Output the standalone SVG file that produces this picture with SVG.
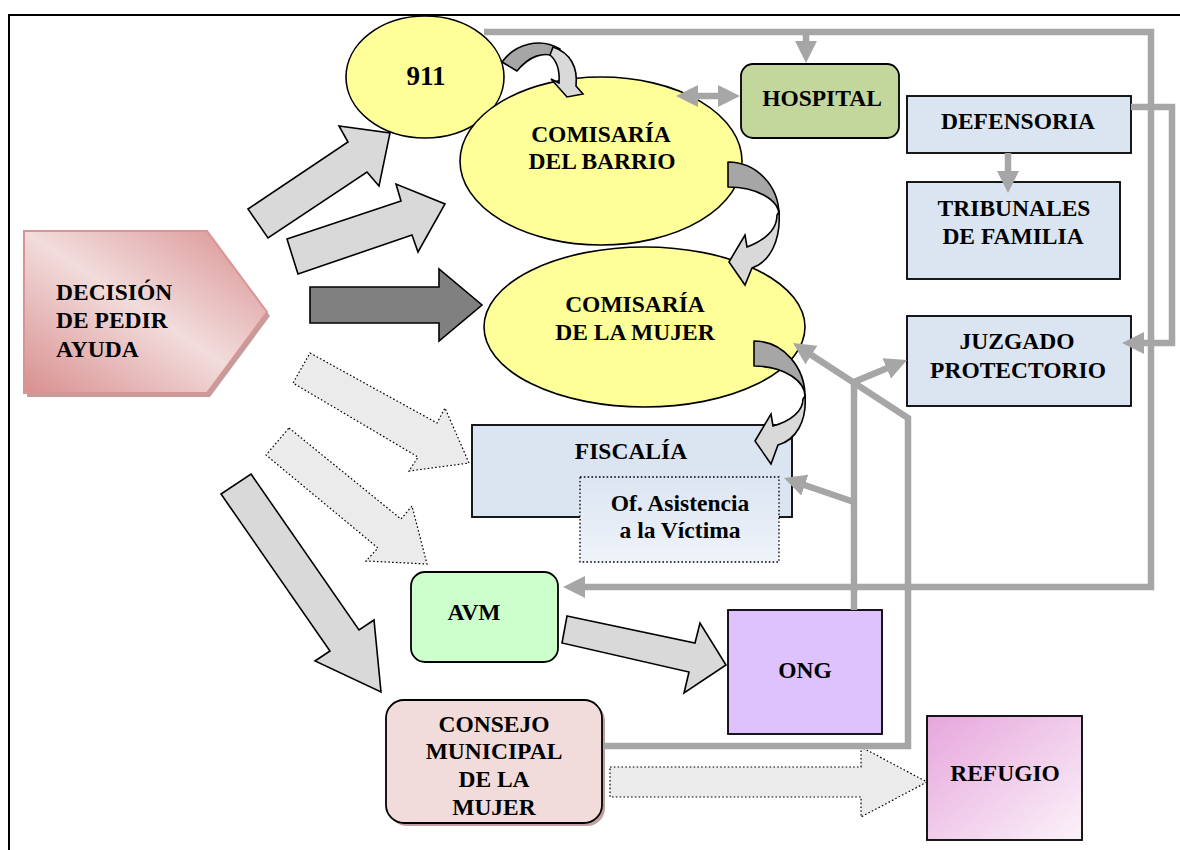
<svg xmlns="http://www.w3.org/2000/svg" width="1180" height="850" viewBox="0 0 1180 850">
  <style>
    .lbl { font-family: "Liberation Serif", "Times New Roman", serif; font-weight: bold; font-size: 23.5px; fill: #000; text-anchor: middle; }
    .lbl-l { text-anchor: start; }
    .oval { fill: #ffff99; stroke: #000; stroke-width: 1.6; }
    .box { stroke: #000; stroke-width: 1.8; }
    .blue { fill: #dbe5f1; }
    .blk { fill: #d9d9d9; stroke: #000; stroke-width: 1.6; stroke-linejoin: miter; }
    .blk-dark { fill: #808080; stroke: #000; stroke-width: 1.6; }
    .blk-dot { fill: #ebebeb; stroke: #000; stroke-width: 1.2; stroke-dasharray: 1.6 2.2; }
    .link { fill: none; stroke: #a6a6a6; stroke-width: 6.5; stroke-linejoin: miter; }
    .curl-back { fill: #a6a6a6; stroke: #000; stroke-width: 1.6; stroke-linejoin: round; }
    .curl-front { fill: #d9d9d9; stroke: #000; stroke-width: 1.6; stroke-linejoin: miter; }
  </style>
  <defs>
    <marker id="head" viewBox="0 0 22 22" refX="12" refY="11" markerWidth="22" markerHeight="22" markerUnits="userSpaceOnUse" orient="auto-start-reverse">
      <path d="M0,0 L22,11 L0,22 Z" fill="#a6a6a6"/>
    </marker>
    <linearGradient id="gDecision" x1="0" y1="1" x2="1" y2="0">
      <stop offset="0" stop-color="#d98f8f"/>
      <stop offset="0.5" stop-color="#f2dcdc"/>
      <stop offset="1" stop-color="#d98f8f"/>
    </linearGradient>
    <linearGradient id="gRefugio" x1="0" y1="0" x2="1" y2="1">
      <stop offset="0" stop-color="#e6a6dc"/>
      <stop offset="1" stop-color="#fbf2f9"/>
    </linearGradient>
    <linearGradient id="gOficina" x1="0" y1="0" x2="0" y2="1">
      <stop offset="0" stop-color="#dbe5f1"/>
      <stop offset="1" stop-color="#eff3fa"/>
    </linearGradient>
  </defs>

  <rect x="0" y="0" width="1180" height="850" fill="#fff"/>
  <!-- page frame -->
  <rect x="9" y="15" width="1200" height="900" fill="none" stroke="#000" stroke-width="2"/>

  <!-- nodes -->
  <g id="decision">
    <polygon points="27,235 210,235 270,316 210,397 27,397" fill="#c49c9c"/>
    <polygon points="24,231 207,231 267,312 207,393 24,393" fill="url(#gDecision)" stroke="#d99594" stroke-width="2"/>
    <text class="lbl lbl-l" x="56" y="300">DECISIÓN</text>
    <text class="lbl lbl-l" x="56" y="328">DE PEDIR</text>
    <text class="lbl lbl-l" x="56" y="357">AYUDA</text>
  </g>

  <g id="n911">
    <ellipse class="oval" cx="425" cy="77" rx="79" ry="61"/>
    <text class="lbl" x="426" y="85" style="font-size:27px">911</text>
  </g>

  <g id="comisaria-barrio">
    <ellipse class="oval" cx="601" cy="161" rx="141" ry="84"/>
    <text class="lbl" x="601" y="142">COMISARÍA</text>
    <text class="lbl" x="602" y="169">DEL BARRIO</text>
  </g>

  <g id="comisaria-mujer">
    <ellipse class="oval" cx="644.5" cy="327" rx="160.5" ry="80"/>
    <text class="lbl" x="635" y="312">COMISARÍA</text>
    <text class="lbl" x="635" y="340">DE LA MUJER</text>
  </g>

  <g id="hospital">
    <rect class="box" x="741" y="64" width="158" height="74" rx="12" fill="#c3d69b"/>
    <text class="lbl" x="822" y="106">HOSPITAL</text>
  </g>

  <g id="defensoria">
    <rect class="box blue" x="907" y="96" width="224" height="57"/>
    <text class="lbl" x="1018" y="129">DEFENSORIA</text>
  </g>

  <g id="tribunales">
    <rect class="box blue" x="907" y="182" width="213" height="97"/>
    <text class="lbl" x="1014" y="216">TRIBUNALES</text>
    <text class="lbl" x="1013" y="244">DE FAMILIA</text>
  </g>

  <g id="juzgado">
    <rect class="box blue" x="907" y="316" width="224" height="90"/>
    <text class="lbl" x="1017" y="349">JUZGADO</text>
    <text class="lbl" x="1018" y="378">PROTECTORIO</text>
  </g>

  <g id="fiscalia">
    <rect class="box blue" x="472" y="425" width="320" height="92"/>
    <text class="lbl" x="631" y="459">FISCALÍA</text>
  </g>

  <g id="oficina-victima">
    <rect x="580" y="477" width="199" height="85" fill="url(#gOficina)" stroke="#000" stroke-width="1.3" stroke-dasharray="1.6 2.2"/>
    <text class="lbl" x="680" y="511">Of. Asistencia</text>
    <text class="lbl" x="680" y="538">a la Víctima</text>
  </g>

  <g id="avm">
    <rect class="box" x="411" y="572" width="147" height="90" rx="14" fill="#ccffcc"/>
    <text class="lbl" x="474" y="620">AVM</text>
  </g>

  <g id="ong">
    <rect class="box" x="728" y="610" width="154" height="124" fill="#dec2fd"/>
    <text class="lbl" x="805" y="678">ONG</text>
  </g>

  <g id="consejo">
    <rect x="389" y="703" width="216" height="123" rx="18" fill="#c0a09f"/>
    <rect class="box" x="386" y="700" width="216" height="123" rx="18" fill="#f2dcdb"/>
    <text class="lbl" x="494" y="732">CONSEJO</text>
    <text class="lbl" x="494" y="759">MUNICIPAL</text>
    <text class="lbl" x="494" y="787">DE LA</text>
    <text class="lbl" x="494" y="815">MUJER</text>
  </g>

  <g id="refugio">
    <rect class="box" x="927" y="716" width="155" height="124" fill="url(#gRefugio)"/>
    <text class="lbl" x="1005" y="781">REFUGIO</text>
  </g>

  <!-- connectors -->
  <g id="connectors">
    <!-- block arrows leaving the decision -->
    <polygon class="blk" points="248,209 348,142 339,126 390,133 379,186 367,172 268,238"/>
    <polygon class="blk" points="287,239 401,201 396,184 445,204 418,252 412,235 298,274"/>
    <polygon class="blk-dark" points="310,287 439,287 439,269 482,305 439,341 439,323 310,323"/>
    <polygon class="blk-dot" points="310,353 437,423 445,408 469,463 409,471 418,457 293,383"/>
    <polygon class="blk-dot" points="289,428 401,519 412,506 427,564 366,561 378,548 266,455"/>
    <polygon class="blk" points="251,474 359,630 374,620 381,692 315,661 330,651 221,494"/>
    <polygon class="blk" points="567,616 695,643 700,623 726,665 684,693 689,672 562,643"/>
    <polygon class="blk-dot" points="610,767 861,767 861,747 927,782 861,817 861,797 610,797"/>

    <!-- curved hand-offs between the police stations -->
    <g id="curl-911">
      <path class="curl-back" d="M502,62 C515,44 540,37 560,49 L556,57 C544,51 529,56 517,71 Z"/>
      <path class="curl-front" d="M553,47 C571,53 578,68 576,86 L583,94 L567,97 L551,79 L559,83 C560,70 557,61 550,55 Z"/>
    </g>
    <g id="curl-barrio" transform="translate(728,162)">
      <path class="curl-back" d="M0,0 A51,53 0 0 1 51,53 A51,28 0 0 0 0,25 Z"/>
      <path class="curl-front" d="M51,50 C53,78 42,100 24,106 L17,123 L1,100 L17,73 L19,85 C37,78 49,68 49,53 Z"/>
    </g>
    <g id="curl-mujer" transform="translate(754,341)">
      <path class="curl-back" d="M0,0 A51,56 0 0 1 51,58 A51,31 0 0 0 0,25 Z"/>
      <path class="curl-front" d="M51,55 C53,80 42,99 24,104 L17,123 L1,100 L17,73 L19,85 C37,80 49,70 49,58 Z"/>
    </g>

    <!-- grey routing lines -->
    <path class="link" d="M484,32 H1151 V587 H573" marker-end="url(#head)"/>
    <path class="link" d="M806,32 V53" marker-end="url(#head)"/>
    <path class="link" d="M686,96 H730" marker-start="url(#head)" marker-end="url(#head)"/>
    <path class="link" d="M1008,153 V183" marker-end="url(#head)"/>
    <path class="link" d="M1131,107 H1172 V343 H1132" marker-end="url(#head)"/>
    <path class="link" d="M854,610 V382 L897.8,363.8" marker-end="url(#head)"/>
    <path class="link" d="M854,502 L793.5,481.2" marker-end="url(#head)"/>
    <path class="link" d="M603,746 H908 V418 L801.4,348.5" marker-end="url(#head)"/>
  </g>
</svg>
